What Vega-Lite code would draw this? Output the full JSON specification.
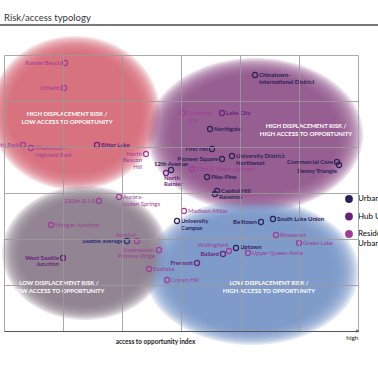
{
  "$schema": "https://vega.github.io/schema/vega-lite/v6.json",
  "width": 354,
  "height": 276,
  "autosize": {"type": "none"},
  "padding": {"left": 4, "top": 55, "right": 20, "bottom": 47},
  "background": "white",
  "config": {"view": {"stroke": null}, "legend": {"symbolFillColor": "white"}},
  "title": {"text": "Risk/access typology", "anchor": "start", "frame": "group", "fontSize": 9.5, "font": "Lato", "fontWeight": "normal", "color": "#333", "offset": 2},
  "datasets": {
    "blobs": [
      {"q": "HL", "x": 1.203, "y": 4.739},
      {"q": "HH", "x": 4.254, "y": 4.261},
      {"q": "LL", "x": 1.373, "y": 1.696},
      {"q": "LH", "x": 4.203, "y": 1.283}
    ],
    "frame": [
      {"x": -0.07, "xend": 6.34, "y": 6.652}
    ],
    "axisend": [
      {"x": 6.0, "y": 0}
    ],
    "qlabels": [
      {"text": "HIGH DISPLACEMENT RISK /\nLOW ACCESS TO OPPORTUNITY", "x": 1.068, "y": 4.717},
      {"text": "HIGH DISPLACEMENT RISK /\nHIGH ACCESS TO OPPORTUNITY", "x": 5.119, "y": 4.467},
      {"text": "LOW DISPLACEMENT RISK /\nLOW ACCESS TO OPPORTUNITY", "x": 0.932, "y": 1.054},
      {"text": "LOW DISPLACEMENT RISK /\nHIGH ACCESS TO OPPORTUNITY", "x": 4.492, "y": 1.054}
    ],
    "points": [
      {"name": "Rainier Beach", "kind": "Residential Urban Village", "side": "left", "x": 1.034, "y": 5.826},
      {"name": "Othello", "kind": "Residential Urban Village", "side": "left", "x": 1.017, "y": 5.283},
      {"name": "South Park", "kind": "Residential Urban Village", "side": "left", "x": 0.322, "y": 4.043},
      {"name": "Westwood-\nHighland Park", "kind": "Residential Urban Village", "side": "right", "x": 0.458, "y": 3.978},
      {"name": "Bitter Lake", "kind": "Hub Urban Village", "side": "right", "x": 1.576, "y": 4.043},
      {"name": "North\nBeacon\nHill", "kind": "Residential Urban Village", "side": "leftlow", "x": 2.407, "y": 3.848},
      {"name": "Chinatown-\nInternational District", "kind": "Urban Center", "side": "right", "x": 4.254, "y": 5.565},
      {"name": "Columbia\nCity", "kind": "Residential Urban Village", "side": "right", "x": 3.034, "y": 4.739},
      {"name": "Lake City", "kind": "Hub Urban Village", "side": "right", "x": 3.695, "y": 4.739},
      {"name": "Northgate", "kind": "Urban Center", "side": "right", "x": 3.492, "y": 4.391},
      {"name": "First Hill", "kind": "Urban Center", "side": "left", "x": 3.525, "y": 3.957},
      {"name": "Pioneer Square", "kind": "Urban Center", "side": "left", "x": 3.695, "y": 3.739},
      {"name": "University District\nNorthwest", "kind": "Urban Center", "side": "right", "x": 3.864, "y": 3.804},
      {"name": "12th Avenue", "kind": "Urban Center", "side": "above", "x": 2.831, "y": 3.5},
      {"name": "North\nRainier", "kind": "Hub Urban Village", "side": "below", "x": 2.746, "y": 3.435},
      {"name": "23rd & Union-Jackson", "kind": "Residential Urban Village", "side": "right", "x": 3.186, "y": 3.522},
      {"name": "Pike-Pine", "kind": "Urban Center", "side": "right", "x": 3.441, "y": 3.348},
      {"name": "Commercial Core", "kind": "Urban Center", "side": "left", "x": 5.644, "y": 3.674},
      {"name": "Denny Triangle", "kind": "Urban Center", "side": "belowleft", "x": 5.678, "y": 3.609},
      {"name": "Capitol Hill", "kind": "Urban Center", "side": "right", "x": 3.61, "y": 3.043},
      {"name": "Ravenna", "kind": "Urban Center", "side": "belowright", "x": 3.576, "y": 2.978},
      {"name": "Aurora-\nLicton Springs", "kind": "Residential Urban Village", "side": "right", "x": 1.949, "y": 2.913},
      {"name": "130th & I-5", "kind": "Residential Urban Village", "side": "left", "x": 1.61, "y": 2.826},
      {"name": "Morgan Junction", "kind": "Residential Urban Village", "side": "right", "x": 0.797, "y": 2.304},
      {"name": "Madison-Miller", "kind": "Residential Urban Village", "side": "right", "x": 3.051, "y": 2.609},
      {"name": "University\nCampus", "kind": "Urban Center", "side": "right", "x": 2.932, "y": 2.391},
      {"name": "Belltown", "kind": "Urban Center", "side": "left", "x": 4.356, "y": 2.37},
      {"name": "South Lake Union", "kind": "Urban Center", "side": "right", "x": 4.559, "y": 2.435},
      {"name": "Roosevelt", "kind": "Residential Urban Village", "side": "right", "x": 4.61, "y": 2.087},
      {"name": "Green Lake", "kind": "Residential Urban Village", "side": "right", "x": 5.0, "y": 1.913},
      {"name": "Uptown", "kind": "Urban Center", "side": "rightup", "x": 3.932, "y": 1.804},
      {"name": "Wallingford", "kind": "Residential Urban Village", "side": "aboveleft", "x": 3.814, "y": 1.739},
      {"name": "Ballard", "kind": "Hub Urban Village", "side": "left", "x": 3.712, "y": 1.674},
      {"name": "Upper Queen Anne", "kind": "Residential Urban Village", "side": "right", "x": 4.136, "y": 1.696},
      {"name": "Fremont", "kind": "Hub Urban Village", "side": "left", "x": 3.271, "y": 1.478},
      {"name": "Eastlake", "kind": "Residential Urban Village", "side": "right", "x": 2.458, "y": 1.348},
      {"name": "Crown Hill", "kind": "Residential Urban Village", "side": "right", "x": 2.763, "y": 1.109},
      {"name": "Admiral", "kind": "Residential Urban Village", "side": "aboveleft", "x": 2.254, "y": 1.957},
      {"name": "Seattle average", "kind": "Seattle average", "side": "left", "x": 2.085, "y": 1.957},
      {"name": "Greenwood-\nPhinney Ridge", "kind": "Residential Urban Village", "side": "left", "x": 2.627, "y": 1.761},
      {"name": "West Seattle\nJunction", "kind": "Hub Urban Village", "side": "left", "x": 1.0, "y": 1.587}
    ]
  },
  "encoding": {
    "x": {"field": "x", "type": "quantitative", "scale": {"domain": [0, 6], "nice": false, "zero": false},
      "axis": {"values": [0, 1, 2, 3, 4, 5, 6], "grid": true, "gridColor": "#9a9a9a", "gridOpacity": 0.85, "ticks": false,
        "labelExpr": "datum.value == 6 ? 'high' : ''", "labelAlign": "right", "labelBaseline": "top", "labelPadding": 3, "labelOverlap": false, "labelBound": false, "labelFlush": false,
        "labelFont": "Lato", "labelFontSize": 6.5, "labelColor": "#222",
        "title": "access to opportunity index", "titleFont": "Lato", "titleFontSize": 6.5, "titleFontWeight": "bold", "titleColor": "#222", "titleX": 151, "titleY": 10, "titleBaseline": "middle", "titleAnchor": "middle",
        "domainColor": "#555", "domainWidth": 1.2, "zindex": 1}},
    "y": {"field": "y", "type": "quantitative", "scale": {"domain": [0, 6], "nice": false, "zero": false},
      "axis": {"values": [0, 1, 2, 3, 4, 5, 6], "grid": true, "gridColor": "#9a9a9a", "gridOpacity": 0.85, "ticks": false, "labels": false, "domain": false, "title": null, "zindex": 1}}
  },
  "layer": [
    {"data": {"name": "blobs"}, "mark": {"type": "point", "filled": true, "size": 40000, "opacity": 0.2, "strokeWidth": 0},
      "encoding": {"shape": {"field": "q", "type": "nominal", "legend": null, "scale": {"domain": ["HL", "HH", "LL", "LH"], "range": ["M-0.85,0A0.85,0.77,0,1,0,0.85,0A0.85,0.77,0,1,0,-0.85,0Z", "M-1.08,0A1.08,0.77,0,1,0,1.08,0A1.08,0.77,0,1,0,-1.08,0Z", "M-0.83,0A0.83,0.67,0,1,0,0.83,0A0.83,0.67,0,1,0,-0.83,0Z", "M-1.07,0A1.07,0.73,0,1,0,1.07,0A1.07,0.73,0,1,0,-1.07,0Z"]}},
        "fill": {"field": "q", "type": "nominal", "legend": null, "scale": {"domain": ["HL", "HH", "LL", "LH"], "range": ["#d66a7a", "#91568b", "#8c7b8e", "#7a97c6"]}}}},
    {"data": {"name": "blobs"}, "mark": {"type": "point", "filled": true, "size": 38416, "opacity": 0.2, "strokeWidth": 0},
      "encoding": {"shape": {"field": "q", "type": "nominal", "legend": null}, "fill": {"field": "q", "type": "nominal", "legend": null}}},
    {"data": {"name": "blobs"}, "mark": {"type": "point", "filled": true, "size": 36864, "opacity": 0.2, "strokeWidth": 0},
      "encoding": {"shape": {"field": "q", "type": "nominal", "legend": null}, "fill": {"field": "q", "type": "nominal", "legend": null}}},
    {"data": {"name": "blobs"}, "mark": {"type": "point", "filled": true, "size": 35344, "opacity": 0.2, "strokeWidth": 0},
      "encoding": {"shape": {"field": "q", "type": "nominal", "legend": null}, "fill": {"field": "q", "type": "nominal", "legend": null}}},
    {"data": {"name": "blobs"}, "mark": {"type": "point", "filled": true, "size": 33856, "opacity": 0.2, "strokeWidth": 0},
      "encoding": {"shape": {"field": "q", "type": "nominal", "legend": null}, "fill": {"field": "q", "type": "nominal", "legend": null}}},
    {"data": {"name": "blobs"}, "mark": {"type": "point", "filled": true, "size": 32400, "opacity": 0.2, "strokeWidth": 0},
      "encoding": {"shape": {"field": "q", "type": "nominal", "legend": null}, "fill": {"field": "q", "type": "nominal", "legend": null}}},
    {"data": {"name": "blobs"}, "mark": {"type": "point", "filled": true, "size": 30976, "opacity": 0.2, "strokeWidth": 0},
      "encoding": {"shape": {"field": "q", "type": "nominal", "legend": null}, "fill": {"field": "q", "type": "nominal", "legend": null}}},
    {"data": {"name": "blobs"}, "mark": {"type": "point", "filled": true, "size": 29584, "opacity": 0.2, "strokeWidth": 0},
      "encoding": {"shape": {"field": "q", "type": "nominal", "legend": null}, "fill": {"field": "q", "type": "nominal", "legend": null}}},
    {"data": {"name": "blobs"}, "mark": {"type": "point", "filled": true, "size": 28224, "opacity": 0.2, "strokeWidth": 0},
      "encoding": {"shape": {"field": "q", "type": "nominal", "legend": null}, "fill": {"field": "q", "type": "nominal", "legend": null}}},
    {"data": {"name": "blobs"}, "mark": {"type": "point", "filled": true, "size": 26896, "opacity": 0.2, "strokeWidth": 0},
      "encoding": {"shape": {"field": "q", "type": "nominal", "legend": null}, "fill": {"field": "q", "type": "nominal", "legend": null}}},
    {"data": {"name": "blobs"}, "mark": {"type": "point", "filled": true, "size": 25600, "opacity": 0.2, "strokeWidth": 0},
      "encoding": {"shape": {"field": "q", "type": "nominal", "legend": null}, "fill": {"field": "q", "type": "nominal", "legend": null}}},
    {"data": {"name": "blobs"}, "mark": {"type": "point", "filled": true, "size": 24336, "opacity": 0.2, "strokeWidth": 0},
      "encoding": {"shape": {"field": "q", "type": "nominal", "legend": null}, "fill": {"field": "q", "type": "nominal", "legend": null}}},
    {"data": {"name": "qlabels"}, "mark": {"type": "text", "font": "Lato", "fontSize": 6, "fontWeight": "bold", "color": "white", "align": "center", "baseline": "middle", "lineBreak": "\n", "lineHeight": 8},
      "encoding": {"text": {"field": "text"}}},
    {"data": {"name": "points"}, "mark": {"type": "point", "shape": "circle", "filled": false, "size": 26, "strokeWidth": 1.2, "opacity": 1},
      "encoding": {"stroke": {"field": "kind", "type": "nominal",
        "scale": {"domain": ["Urban Center", "Hub Urban Village", "Residential Urban Village", "Seattle average"], "range": ["#2a2158", "#6a1f7c", "#a03b98", "#2b2d78"]},
        "legend": {"values": ["Urban Center", "Hub Urban Village", "Residential Urban Village"], "title": null, "orient": "none", "legendX": 341, "legendY": 140, "padding": 0,
          "labelFont": "Lato", "labelFontSize": 8, "labelOffset": 5, "rowPadding": 3.5, "symbolSize": 36, "symbolType": "circle", "symbolStrokeWidth": 1.8, "symbolFillColor": "white",
          "labelExpr": "datum.label == 'Residential Urban Village' ? ['Residential', 'Urban Village'] : datum.label",
          "encode": {
            "labels": {"fill": {"condition": [{"test": "datum.value == 'Urban Center'", "value": "#2a2158"}, {"test": "datum.value == 'Hub Urban Village'", "value": "#6a1f7c"}], "value": "#a03b98"},
              "fontWeight": {"condition": {"test": "datum.value == 'Residential Urban Village'", "value": "normal"}, "value": "bold"}},
            "symbols": {"fill": {"value": "white"}, "strokeWidth": {"value": 1.8}}}}}}},
    {"data": {"name": "points"}, "transform": [{"filter": "datum.side == 'right'"}],
      "mark": {"type": "text", "font": "Lato", "fontSize": 6, "lineHeight": 6.5, "lineBreak": "\n", "align": "left", "baseline": "middle", "dx": 4, "fontWeight": {"expr": "datum.kind == 'Residential Urban Village' ? 'normal' : 'bold'"}},
      "encoding": {"text": {"field": "name"}, "color": {"field": "kind", "type": "nominal", "legend": null, "scale": {"domain": ["Urban Center", "Hub Urban Village", "Residential Urban Village", "Seattle average"], "range": ["#2a2158", "#6a1f7c", "#a03b98", "#2b2d78"]}}}},
    {"data": {"name": "points"}, "transform": [{"filter": "datum.side == 'rightup'"}],
      "mark": {"type": "text", "font": "Lato", "fontSize": 6, "lineHeight": 6.5, "lineBreak": "\n", "align": "left", "baseline": "bottom", "dx": 4, "dy": 1.5, "fontWeight": {"expr": "datum.kind == 'Residential Urban Village' ? 'normal' : 'bold'"}},
      "encoding": {"text": {"field": "name"}, "color": {"field": "kind", "type": "nominal", "legend": null}}},
    {"data": {"name": "points"}, "transform": [{"filter": "datum.side == 'left'"}],
      "mark": {"type": "text", "font": "Lato", "fontSize": 6, "lineHeight": 6.5, "lineBreak": "\n", "align": "right", "baseline": "middle", "dx": -4, "fontWeight": {"expr": "datum.kind == 'Residential Urban Village' ? 'normal' : 'bold'"}},
      "encoding": {"text": {"field": "name"}, "color": {"field": "kind", "type": "nominal", "legend": null}}},
    {"data": {"name": "points"}, "transform": [{"filter": "datum.side == 'above'"}],
      "mark": {"type": "text", "font": "Lato", "fontSize": 6, "lineHeight": 6.5, "lineBreak": "\n", "align": "center", "baseline": "bottom", "dy": -3, "fontWeight": {"expr": "datum.kind == 'Residential Urban Village' ? 'normal' : 'bold'"}},
      "encoding": {"text": {"field": "name"}, "color": {"field": "kind", "type": "nominal", "legend": null}}},
    {"data": {"name": "points"}, "transform": [{"filter": "datum.side == 'below'"}],
      "mark": {"type": "text", "font": "Lato", "fontSize": 6, "lineHeight": 6.5, "lineBreak": "\n", "align": "left", "baseline": "top", "dx": -2, "dy": 2, "fontWeight": {"expr": "datum.kind == 'Residential Urban Village' ? 'normal' : 'bold'"}},
      "encoding": {"text": {"field": "name"}, "color": {"field": "kind", "type": "nominal", "legend": null}}},
    {"data": {"name": "points"}, "transform": [{"filter": "datum.side == 'aboveleft'"}],
      "mark": {"type": "text", "font": "Lato", "fontSize": 6, "lineHeight": 6.5, "lineBreak": "\n", "align": "right", "baseline": "bottom", "dx": -1, "dy": -3, "fontWeight": {"expr": "datum.kind == 'Residential Urban Village' ? 'normal' : 'bold'"}},
      "encoding": {"text": {"field": "name"}, "color": {"field": "kind", "type": "nominal", "legend": null}}},
    {"data": {"name": "points"}, "transform": [{"filter": "datum.side == 'belowleft'"}],
      "mark": {"type": "text", "font": "Lato", "fontSize": 6, "lineHeight": 6.5, "lineBreak": "\n", "align": "right", "baseline": "top", "dx": -2, "dy": 3, "fontWeight": {"expr": "datum.kind == 'Residential Urban Village' ? 'normal' : 'bold'"}},
      "encoding": {"text": {"field": "name"}, "color": {"field": "kind", "type": "nominal", "legend": null}}},
    {"data": {"name": "points"}, "transform": [{"filter": "datum.side == 'belowright'"}],
      "mark": {"type": "text", "font": "Lato", "fontSize": 6, "lineHeight": 6.5, "lineBreak": "\n", "align": "left", "baseline": "top", "dx": 4, "dy": 0, "fontWeight": {"expr": "datum.kind == 'Residential Urban Village' ? 'normal' : 'bold'"}},
      "encoding": {"text": {"field": "name"}, "color": {"field": "kind", "type": "nominal", "legend": null}}},
    {"data": {"name": "points"}, "transform": [{"filter": "datum.side == 'leftlow'"}],
      "mark": {"type": "text", "font": "Lato", "fontSize": 6, "lineHeight": 6.5, "lineBreak": "\n", "align": "right", "baseline": "top", "dx": -4, "dy": -3, "fontWeight": {"expr": "datum.kind == 'Residential Urban Village' ? 'normal' : 'bold'"}},
      "encoding": {"text": {"field": "name"}, "color": {"field": "kind", "type": "nominal", "legend": null}}},
    {"data": {"name": "frame"}, "mark": {"type": "rule", "color": "#4d4d4d", "strokeWidth": 1.6},
      "encoding": {"x2": {"field": "xend"}}},
    {"data": {"name": "axisend"}, "mark": {"type": "point", "shape": "triangle-right", "filled": true, "size": 14, "color": "#555", "opacity": 1},
      "encoding": {}}
  ]
}
